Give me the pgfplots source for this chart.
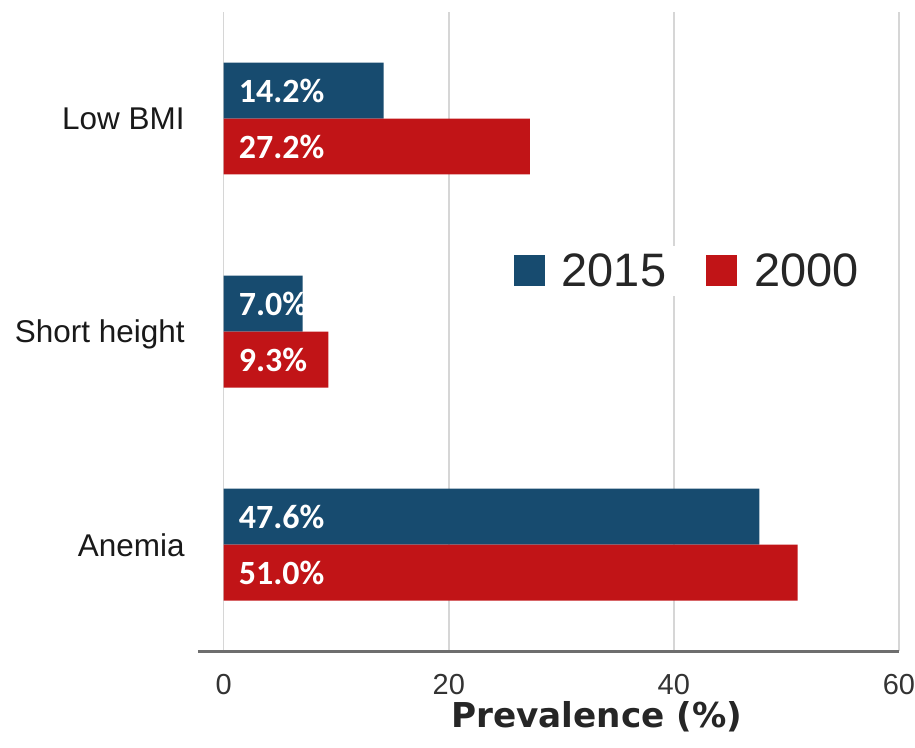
\documentclass[border=0pt]{standalone}
\usepackage{pgfplots}
\pgfplotsset{compat=1.18}
\usepackage{fontspec}
\setmainfont{Liberation Sans}
\newfontfamily\carlito{Carlito}
\newfontfamily\dejavu{DejaVu Sans}
\definecolor{blue15}{HTML}{174B6F}
\definecolor{red00}{HTML}{C11417}
\definecolor{gridc}{HTML}{D6D6D6}
\definecolor{axc}{HTML}{6E6E6E}
\begin{document}
\begin{tikzpicture}
\begin{axis}[
 scale only axis, width=702pt, height=640pt,
 xmin=-2.31, xmax=60, ymin=-0.5, ymax=2.5,
 xtick={0,20,40,60}, ytick={0,1,2}, yticklabels={Anemia,Short height,Low BMI},
 /pgf/number format/assume math mode=true,
 major tick length=0pt,
 xmajorgrids, major grid style={draw=gridc, line width=1.5pt},
 axis x line*=bottom, axis y line*=left,
 x axis line style={draw=axc, line width=3pt, -},
 y axis line style={draw=none},
 xticklabel style={font=\fontsize{29}{34}\selectfont, inner sep=0pt, yshift=-23pt, text=black!80},
 yticklabel style={font=\fontsize{31.5}{38}\selectfont, inner sep=0pt, xshift=-13pt, text depth=0pt, text=black!90},
 xlabel={Prevalence (\%)},
 xlabel style={font=\dejavu\bfseries\fontsize{34.3}{40}\selectfont, at={(axis description cs:0.569,0)}, anchor=base, yshift=-76pt, inner sep=0pt, text=black!85},
 legend columns=2,
 legend style={at={(axis description cs:0.6966,0.595)}, anchor=center, draw=none, fill=white,
   font=\fontsize{47}{54}\selectfont, text=black!85, inner xsep=10pt, inner ysep=8pt, nodes={inner sep=0pt},
   /tikz/every odd column/.append style={column sep=17pt},
   /tikz/every even column/.append style={column sep=40pt}},
 legend image code/.code={\fill[#1] (0pt,-15.5pt) rectangle (31pt,15.5pt);},
]
\addplot[xbar, bar width=0.2625, bar shift=0.13125, draw=none, fill=blue15]
  coordinates {(47.6,0) (7.0,1) (14.2,2)};
\addlegendentry{2015}
\addplot[xbar, bar width=0.2625, bar shift=-0.13125, draw=none, fill=red00]
  coordinates {(51.0,0) (9.3,1) (27.2,2)};
\addlegendentry{2000}
\addplot[only marks, mark=*, mark size=0pt, mark options={draw=none, fill=none, opacity=0}, forget plot,
  point meta=explicit symbolic, nodes near coords,
  every node near coord/.append style={anchor=west, xshift=15pt, inner sep=0pt, text=white, opacity=1, text opacity=1,
    font=\carlito\bfseries\fontsize{34}{40}\selectfont, text depth=0pt}]
  coordinates {(0,2.13125) [14.2\%] (0,1.86875) [27.2\%]
               (0,1.13125) [7.0\%] (0,0.86875) [9.3\%]
               (0,0.13125) [47.6\%] (0,-0.13125) [51.0\%]};
\coordinate (ll) at (rel axis cs:0,0);
\coordinate (ur) at (rel axis cs:1,1);
\end{axis}
\path ([shift={(-198pt,-96pt)}]ll) rectangle ([shift={(15pt,12pt)}]ur);
\end{tikzpicture}
\end{document}
